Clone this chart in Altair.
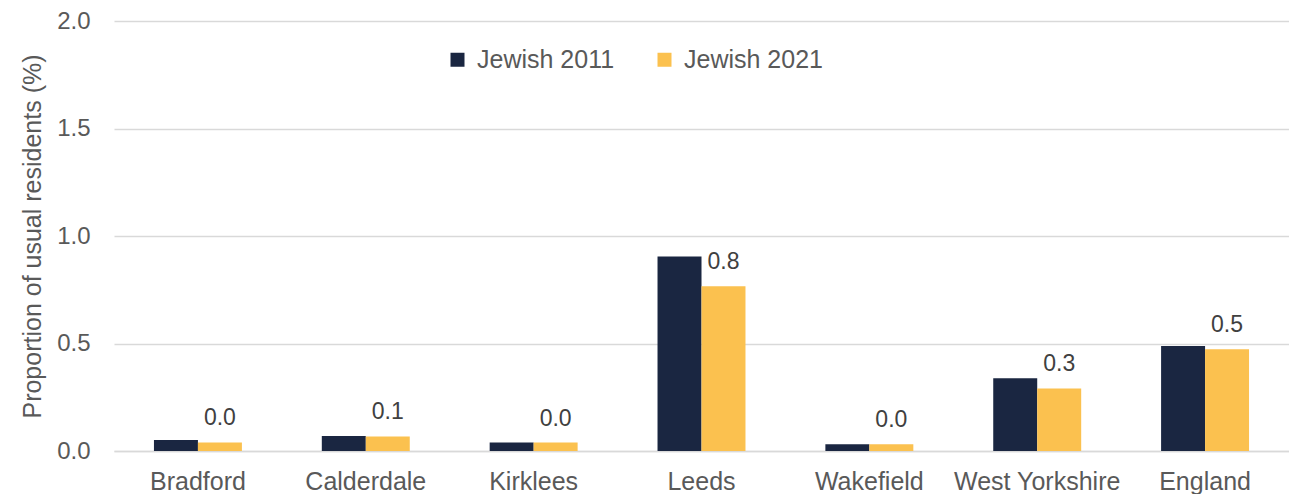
import altair as alt
import pandas as pd

categories = ["Bradford", "Calderdale", "Kirklees", "Leeds", "Wakefield", "West Yorkshire", "England"]
series = ["Jewish 2011", "Jewish 2021"]
jewish_2011 = [0.051, 0.070, 0.039, 0.905, 0.031, 0.338, 0.488]
jewish_2021 = [0.040, 0.068, 0.039, 0.766, 0.031, 0.291, 0.473]
y_ticks = [0.0, 0.5, 1.0, 1.5, 2.0]
colors = ["#1a2641", "#fbc14f"]

rows = []
for c, v in zip(categories, jewish_2011):
    rows.append({"area": c, "series": series[0], "value": v})
for c, v in zip(categories, jewish_2021):
    rows.append({"area": c, "series": series[1], "value": v})
df = pd.DataFrame(rows)

FONT = "Liberation Sans"
GREY = "#595959"

x_enc = alt.X(
    "area:N",
    sort=categories,
    scale=alt.Scale(paddingInner=0.476, paddingOuter=0.238),
    axis=alt.Axis(
        title=None, labelAngle=0, labelFontSize=25, labelColor=GREY, labelFont=FONT,
        labelPadding=18, ticks=False, domainColor="#d9d9d9", domainWidth=1.5,
        grid=False, labelOverlap=False, labelLimit=300,
    ),
)
y_enc = alt.Y(
    "value:Q",
    scale=alt.Scale(domain=[0, 2], nice=False),
    axis=alt.Axis(
        values=y_ticks, format=".1f", title="Proportion of usual residents (%)",
        titleFontSize=25, titleFontWeight="normal", titleColor=GREY, titleFont=FONT,
        titlePadding=11, labelFontSize=24, labelColor=GREY, labelFont=FONT,
        labelPadding=24, ticks=False, domain=False, gridColor="#d9d9d9", gridWidth=1.5,
    ),
)
xoff = alt.XOffset("series:N", sort=series, scale=alt.Scale(domain=series, paddingInner=0, paddingOuter=0))

bars = alt.Chart(df).mark_bar().encode(
    x=x_enc,
    y=y_enc,
    xOffset=xoff,
    color=alt.Color(
        "series:N",
        sort=series,
        scale=alt.Scale(domain=series, range=colors),
        legend=alt.Legend(
            title=None, orient="none", direction="horizontal", legendX=331, legendY=26,
            symbolType="square", symbolSize=196, symbolStrokeWidth=0, symbolOpacity=1,
            labelFontSize=25, labelColor=GREY, labelFont=FONT, labelOffset=7,
            columnPadding=37, padding=0,
        ),
    ),
)

labels = alt.Chart(df).transform_filter(
    alt.datum.series == series[1]
).mark_text(
    baseline="alphabetic", dy=-17, fontSize=23, color="#404040", font=FONT
).encode(
    x=x_enc,
    y=y_enc,
    xOffset=xoff,
    text=alt.Text("value:Q", format=".1f"),
)

chart = alt.layer(bars, labels).properties(
    width=1175,
    height=430,
    padding={"left": 12, "top": 1, "right": 0, "bottom": 0},
    background="white",
).configure_view(stroke=None)

chart.save("out.html", embed_options={"renderer": "svg", "actions": False})
